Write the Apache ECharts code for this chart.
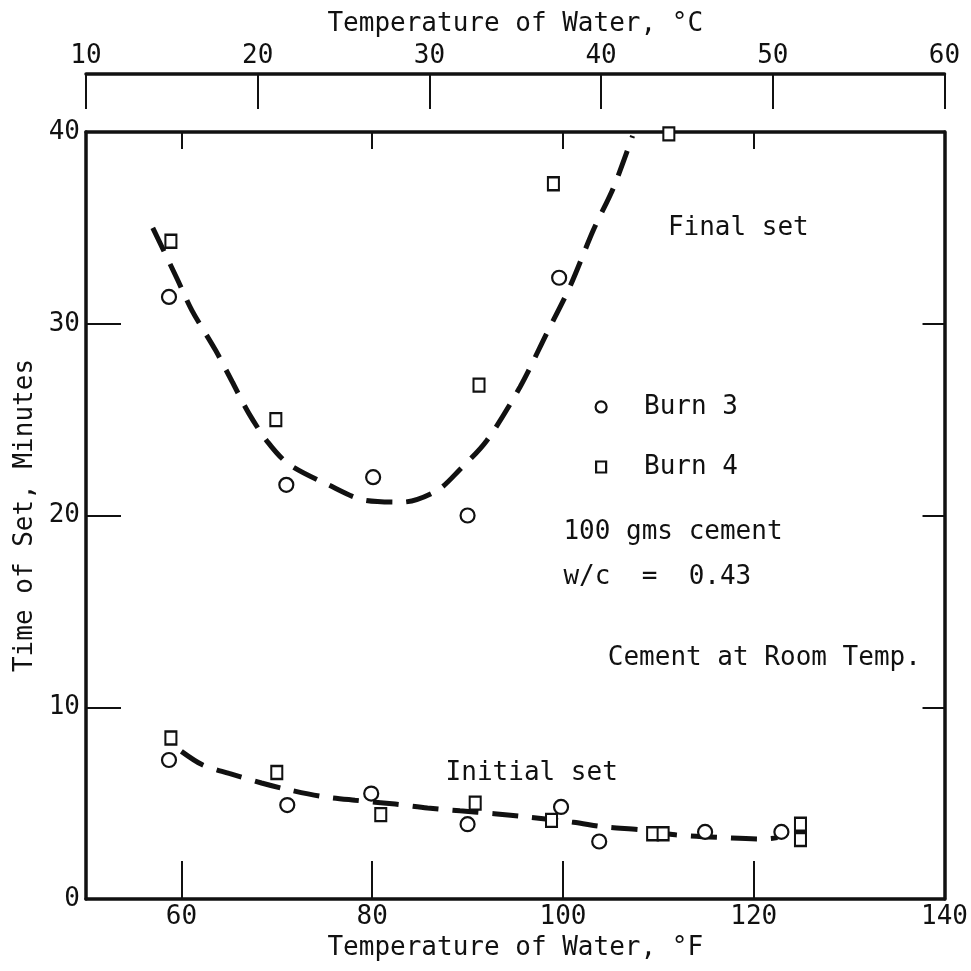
<!DOCTYPE html>
<html>
<head>
<meta charset="utf-8">
<title>Time of Set vs Temperature of Water</title>
<script src="https://cdn.jsdelivr.net/npm/echarts@6/dist/echarts.min.js"></script>
<style>
  body { margin: 0; background: #fff; }
  #main { width: 971px; height: 971px; }
</style>
</head>
<body>
<div id="main"></div>
<script>
// data: [°F, minutes]
var finalBurn3 = [[58.7, 31.4], [71.0, 21.6], [80.1, 22.0], [90.0, 20.0], [99.6, 32.4]];
var finalBurn4 = [[58.9, 34.3], [69.9, 25.0], [91.2, 26.8], [99.0, 37.3], [111.1, 39.9]];
var initialBurn3 = [[58.7, 7.25], [71.1, 4.9], [79.9, 5.5], [90.0, 3.9], [99.8, 4.8], [103.8, 3.0], [114.9, 3.5], [122.9, 3.5]];
var initialBurn4 = [[58.9, 8.4], [70.0, 6.6], [80.9, 4.4], [90.8, 5.0], [98.8, 4.1], [109.4, 3.4], [110.5, 3.4], [124.9, 3.9], [124.9, 3.1]];

// fitted dashed curves
var finalCurve = [[57.0, 35.0], [59.5, 32.4], [61.1, 30.7], [63.6, 28.6], [65.3, 27.0], [67.1, 25.3],
  [69.1, 23.8], [71.2, 22.7], [75.4, 21.6], [79.2, 20.8], [83.2, 20.7], [86.8, 21.3], [89.2, 22.4],
  [92.0, 23.9], [95.5, 26.7], [98.3, 29.5], [100.7, 31.9], [103.2, 34.9], [105.3, 37.1], [107.3, 39.8]];
var initialCurve = [[60.0, 7.7], [62.2, 7.0], [65.0, 6.55], [68.4, 6.05], [71.2, 5.7], [74.7, 5.35],
  [78.2, 5.15], [82.4, 4.95], [85.8, 4.75], [89.2, 4.6], [92.8, 4.45], [96.2, 4.28], [101.1, 4.0],
  [104.5, 3.75], [108.4, 3.6], [111.8, 3.35], [117.7, 3.18], [120.9, 3.13], [122.5, 3.2]];

// axis ticks and labels
var fTicks = [60, 80, 100, 120];
var fLabels = [60, 80, 100, 120, 140];

// text notes in data coordinates (left edge, middle)
var notes = [
  { text: 'Final set', x: 111.0, y: 35.0 },
  { text: 'Burn 3', x: 108.5, y: 25.66 },
  { text: 'Burn 4', x: 108.5, y: 22.53 },
  { text: '100 gms cement', x: 100.05, y: 19.14 },
  { text: 'w/c  =  0.43', x: 100.05, y: 16.79 },
  { text: 'Cement at Room Temp.', x: 104.7, y: 12.57 },
  { text: 'Initial set', x: 87.7, y: 6.57 }
];
var legendMarks = [
  { shape: 'circle', x: 104.0, y: 25.66 },
  { shape: 'rect', x: 104.0, y: 22.53 }
];

var FONT = 'DejaVu Sans Mono';
var INK = '#111';
var SIZE = 26;
var txt = { fontFamily: FONT, fontSize: SIZE, color: INK };

var myChart = echarts.init(document.getElementById('main'));

function dashed(data) {
  return {
    type: 'line', data: data, smooth: 0.3, showSymbol: false, silent: true,
    lineStyle: { color: INK, width: 5, type: [26, 14] }, z: 2
  };
}
function marks(data, symbol, size) {
  return {
    type: 'scatter', data: data, symbol: symbol, symbolSize: size, clip: false,
    itemStyle: { color: '#fff', borderColor: INK, borderWidth: 2.2, opacity: 1 }, z: 3
  };
}

var option = {
  backgroundColor: '#fff',
  animation: false,
  grid: { left: 86, right: 20, top: 132, bottom: 72 },
  xAxis: [{
    type: 'value', min: 50, max: 140, position: 'bottom',
    name: 'Temperature of Water, °F', nameLocation: 'middle', nameGap: 36, nameTextStyle: txt,
    axisLine: { onZero: false, lineStyle: { color: INK, width: 3.5 } },
    axisTick: { inside: true, length: 38, customValues: fTicks, lineStyle: { color: INK, width: 2 } },
    axisLabel: Object.assign({ margin: 5, customValues: fLabels }, txt),
    splitLine: { show: false }
  }, {
    type: 'value', min: 50, max: 140, position: 'top',
    axisLine: { onZero: false, lineStyle: { color: INK, width: 3.5 } },
    axisTick: { inside: true, length: 17, customValues: fTicks, lineStyle: { color: INK, width: 2 } },
    axisLabel: { show: false },
    splitLine: { show: false }
  }, {
    type: 'value', min: 10, max: 60, interval: 10, position: 'top', offset: 58,
    name: 'Temperature of Water, °C', nameLocation: 'middle', nameGap: 37, nameTextStyle: txt,
    axisLine: { onZero: false, lineStyle: { color: INK, width: 3.5 } },
    axisTick: { inside: true, length: 35, lineStyle: { color: INK, width: 2 } },
    axisLabel: Object.assign({ margin: 5 }, txt),
    splitLine: { show: false }
  }],
  yAxis: [{
    type: 'value', min: 0, max: 40, interval: 10, position: 'left',
    name: 'Time of Set, Minutes', nameLocation: 'middle', nameGap: 48, nameTextStyle: txt,
    axisLine: { onZero: false, lineStyle: { color: INK, width: 3.5 } },
    axisTick: { inside: true, length: 35, lineStyle: { color: INK, width: 2 } },
    axisLabel: Object.assign({ margin: 6 }, txt),
    splitLine: { show: false }
  }, {
    type: 'value', min: 0, max: 40, interval: 10, position: 'right',
    axisLine: { onZero: false, lineStyle: { color: INK, width: 3.5 } },
    axisTick: { inside: true, length: 22, lineStyle: { color: INK, width: 2 } },
    axisLabel: { show: false },
    splitLine: { show: false }
  }],
  series: [
    dashed(finalCurve),
    dashed(initialCurve),
    marks(finalBurn3, 'circle', 14),
    marks(initialBurn3, 'circle', 14),
    marks(finalBurn4, 'rect', [11, 13]),
    marks(initialBurn4, 'rect', [11, 13])
  ]
};
myChart.setOption(option);

// place notes and legend marks through the chart's own scales
var elements = [];
notes.forEach(function (n) {
  var p = myChart.convertToPixel({ gridIndex: 0 }, [n.x, n.y]);
  elements.push({
    type: 'text', x: p[0], y: p[1], z: 10,
    style: { text: n.text, font: SIZE + 'px "' + FONT + '"', fill: INK, align: 'left', verticalAlign: 'middle' }
  });
});
legendMarks.forEach(function (m) {
  var p = myChart.convertToPixel({ gridIndex: 0 }, [m.x, m.y]);
  if (m.shape === 'circle') {
    elements.push({ type: 'circle', z: 10, shape: { cx: p[0], cy: p[1], r: 5.5 },
      style: { fill: '#fff', stroke: INK, lineWidth: 2.2 } });
  } else {
    elements.push({ type: 'rect', z: 10, shape: { x: p[0] - 5, y: p[1] - 5.5, width: 10, height: 11 },
      style: { fill: '#fff', stroke: INK, lineWidth: 2.2 } });
  }
});
myChart.setOption({ graphic: elements });
</script>
</body>
</html>
